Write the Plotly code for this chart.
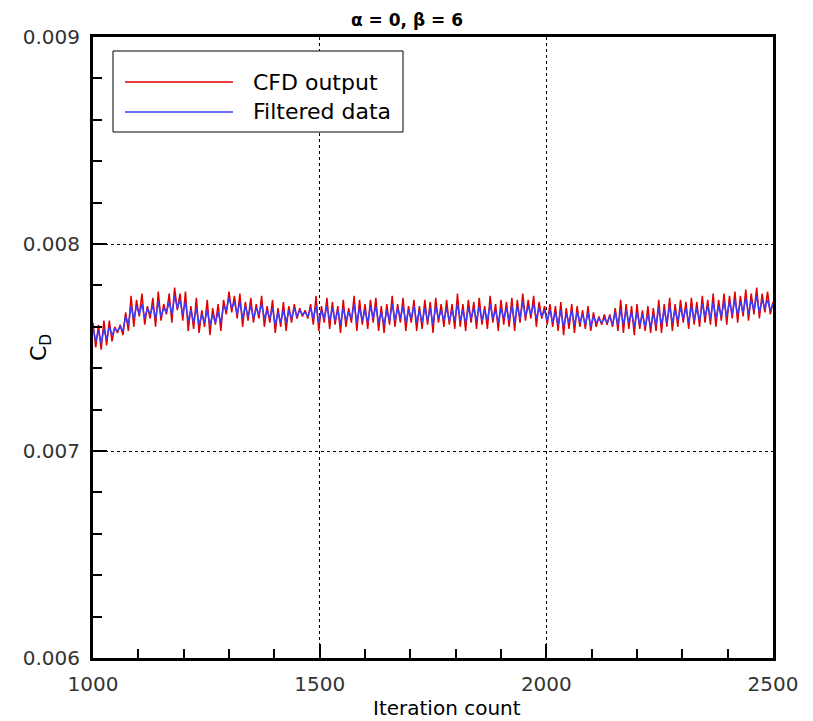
import plotly.graph_objects as go

# ---- data ----
iterations = list(range(1000, 2501, 6))

cfd_output = [
    .00762, .00750, .00761, .00749, .00763, .00751, .00763, .00753, .00760, .00757,
    .00761, .00756, .00767, .00758, .00775, .00760, .00773, .00765, .00776, .00761,
    .00770, .00764, .00774, .00760, .00777, .00763, .00771, .00766, .00776, .00762,
    .00779, .00768, .00776, .00763, .00777, .00758, .00770, .00759, .00774, .00757,
    .00768, .00760, .00773, .00756, .00769, .00761, .00771, .00758, .00773, .00766,
    .00777, .00767, .00775, .00764, .00776, .00760, .00772, .00763, .00774, .00762,
    .00771, .00764, .00775, .00760, .00770, .00762, .00773, .00757, .00769, .00760,
    .00772, .00758, .00770, .00762, .00771, .00764, .00769, .00765, .00768, .00764,
    .00771, .00761, .00775, .00758, .00770, .00762, .00774, .00759, .00772, .00761,
    .00770, .00757, .00773, .00760, .00769, .00762, .00775, .00758, .00773, .00761,
    .00771, .00759, .00773, .00762, .00774, .00758, .00770, .00757, .00771, .00761,
    .00775, .00760, .00771, .00762, .00774, .00758, .00770, .00762, .00773, .00758,
    .00770, .00759, .00773, .00761, .00772, .00757, .00774, .00762, .00771, .00760,
    .00773, .00761, .00771, .00759, .00776, .00760, .00771, .00758, .00773, .00762,
    .00772, .00759, .00774, .00761, .00770, .00759, .00775, .00762, .00771, .00758,
    .00773, .00761, .00772, .00760, .00774, .00758, .00773, .00762, .00776, .00763,
    .00773, .00764, .00775, .00760, .00772, .00764, .00770, .00761, .00771, .00760,
    .00770, .00758, .00772, .00756, .00769, .00759, .00771, .00757, .00770, .00760,
    .00768, .00759, .00770, .00758, .00767, .00760, .00765, .00761, .00766, .00761,
    .00766, .00760, .00769, .00758, .00773, .00757, .00771, .00759, .00770, .00756,
    .00771, .00759, .00768, .00758, .00770, .00757, .00769, .00758, .00773, .00757,
    .00771, .00760, .00774, .00758, .00771, .00760, .00773, .00762, .00772, .00759,
    .00774, .00761, .00772, .00760, .00775, .00762, .00773, .00761, .00776, .00760,
    .00773, .00763, .00776, .00761, .00775, .00764, .00777, .00762, .00775, .00765,
    .00778, .00763, .00776, .00766, .00779, .00764, .00776, .00767, .00777, .00766,
    .00772,
]

filtered_data = [
    .00760, .00753, .00758, .00752, .00759, .00754, .00760, .00756, .00759, .00758,
    .00760, .00758, .00765, .00761, .00770, .00764, .00770, .00766, .00771, .00764,
    .00769, .00766, .00770, .00764, .00772, .00765, .00769, .00767, .00772, .00766,
    .00775, .00769, .00773, .00766, .00772, .00763, .00768, .00762, .00769, .00761,
    .00766, .00762, .00768, .00761, .00766, .00762, .00767, .00762, .00770, .00768,
    .00774, .00769, .00772, .00766, .00772, .00764, .00770, .00765, .00770, .00764,
    .00769, .00766, .00771, .00764, .00768, .00764, .00769, .00761, .00767, .00762,
    .00768, .00762, .00768, .00764, .00769, .00765, .00768, .00766, .00767, .00765,
    .00769, .00764, .00770, .00762, .00768, .00764, .00770, .00763, .00769, .00763,
    .00768, .00761, .00769, .00763, .00767, .00764, .00771, .00762, .00769, .00763,
    .00768, .00762, .00770, .00764, .00770, .00762, .00767, .00761, .00768, .00763,
    .00771, .00763, .00769, .00764, .00770, .00762, .00768, .00764, .00770, .00762,
    .00768, .00762, .00769, .00763, .00769, .00761, .00770, .00764, .00768, .00763,
    .00769, .00763, .00768, .00763, .00771, .00763, .00768, .00762, .00769, .00764,
    .00769, .00763, .00770, .00763, .00768, .00763, .00771, .00764, .00768, .00762,
    .00769, .00764, .00769, .00763, .00770, .00762, .00770, .00764, .00772, .00765,
    .00770, .00766, .00771, .00764, .00769, .00765, .00768, .00763, .00768, .00762,
    .00767, .00761, .00768, .00760, .00766, .00762, .00768, .00761, .00767, .00762,
    .00766, .00761, .00767, .00760, .00765, .00762, .00764, .00762, .00764, .00762,
    .00765, .00761, .00767, .00761, .00768, .00761, .00768, .00762, .00767, .00760,
    .00767, .00761, .00766, .00760, .00766, .00760, .00766, .00761, .00769, .00761,
    .00768, .00762, .00770, .00762, .00768, .00763, .00769, .00764, .00769, .00762,
    .00770, .00763, .00769, .00763, .00771, .00765, .00770, .00764, .00772, .00764,
    .00770, .00765, .00772, .00765, .00772, .00766, .00773, .00766, .00772, .00767,
    .00774, .00766, .00773, .00768, .00775, .00767, .00773, .00769, .00773, .00768,
    .00771,
]

series_names = ["CFD output", "Filtered data"]
title_text = "α = 0, β = 6"
x_title = "Iteration count"
y_title = "C<sub>D</sub>"

# ---- styling ----
RED = "#e00000"
BLUE = "#3c3cff"
FONT = "DejaVu Sans"

# plot area in pixels
L, R, T, B = 93, 773, 37, 658
W, H = 813, 721


def px_x(px):
    return (px - L) / (R - L)


def px_y(py):
    return (B - py) / (B - T)


fig = go.Figure()
fig.add_trace(go.Scatter(x=iterations, y=cfd_output, mode="lines",
                         line=dict(color=RED, width=1.5), name=series_names[0]))
fig.add_trace(go.Scatter(x=iterations, y=filtered_data, mode="lines",
                         line=dict(color=BLUE, width=1.5), name=series_names[1]))

axis_common = dict(
    showline=True, linecolor="black", linewidth=3, mirror=True,
    ticks="inside", tickcolor="black", tickwidth=1.5, ticklen=14,
    showgrid=True, gridcolor="black", griddash="dot", gridwidth=1,
    zeroline=False,
    tickfont=dict(family=FONT, size=20, color="#333333"),
)

fig.update_xaxes(range=[1000, 2500], tick0=1000, dtick=500,
                 minor=dict(tick0=1000, dtick=100, ticks="inside", ticklen=9,
                            tickcolor="black", tickwidth=1.5, showgrid=False),
                 ticklabelstandoff=6, **axis_common)
fig.update_yaxes(range=[0.006, 0.009], tick0=0.006, dtick=0.001, tickformat=".3f",
                 minor=dict(tick0=0.006, dtick=0.0002, ticks="inside", ticklen=9,
                            tickcolor="black", tickwidth=1.5, showgrid=False),
                 ticklabelstandoff=6, **axis_common)

# manual legend (long line samples like the reference)
shapes = [
    dict(type="rect", xref="paper", yref="paper",
         x0=px_x(113), x1=px_x(403), y0=px_y(132), y1=px_y(51),
         line=dict(color="black", width=1), fillcolor="white", layer="above"),
    dict(type="line", xref="paper", yref="paper",
         x0=px_x(125), x1=px_x(233), y0=px_y(82), y1=px_y(82),
         line=dict(color=RED, width=1.5), layer="above"),
    dict(type="line", xref="paper", yref="paper",
         x0=px_x(125), x1=px_x(233), y0=px_y(112), y1=px_y(112),
         line=dict(color=BLUE, width=1.5), layer="above"),
]

annotations = [
    dict(text=series_names[0], xref="paper", yref="paper", x=px_x(251), y=px_y(82),
         xanchor="left", yanchor="middle", showarrow=False,
         font=dict(family=FONT, size=22, color="black")),
    dict(text=series_names[1], xref="paper", yref="paper", x=px_x(251), y=px_y(112),
         xanchor="left", yanchor="middle", showarrow=False,
         font=dict(family=FONT, size=22, color="black")),
    dict(text="<b>" + title_text + "</b>", xref="paper", yref="paper",
         x=px_x(407), y=px_y(20), xanchor="center", yanchor="middle", showarrow=False,
         font=dict(family=FONT, size=17, color="black")),
    dict(text=x_title, xref="paper", yref="paper", x=px_x(447), y=px_y(708),
         xanchor="center", yanchor="middle", showarrow=False,
         font=dict(family=FONT, size=20, color="black")),
    dict(text=y_title, xref="paper", yref="paper", x=px_x(40), y=px_y(348),
         xanchor="center", yanchor="middle", showarrow=False, textangle=-90,
         font=dict(family=FONT, size=22, color="black")),
]

fig.update_layout(
    width=W, height=H,
    margin=dict(l=L, r=W - R, t=T, b=H - B, pad=0),
    paper_bgcolor="white", plot_bgcolor="white",
    showlegend=False,
    shapes=shapes, annotations=annotations,
)

fig.write_html("out.html")
